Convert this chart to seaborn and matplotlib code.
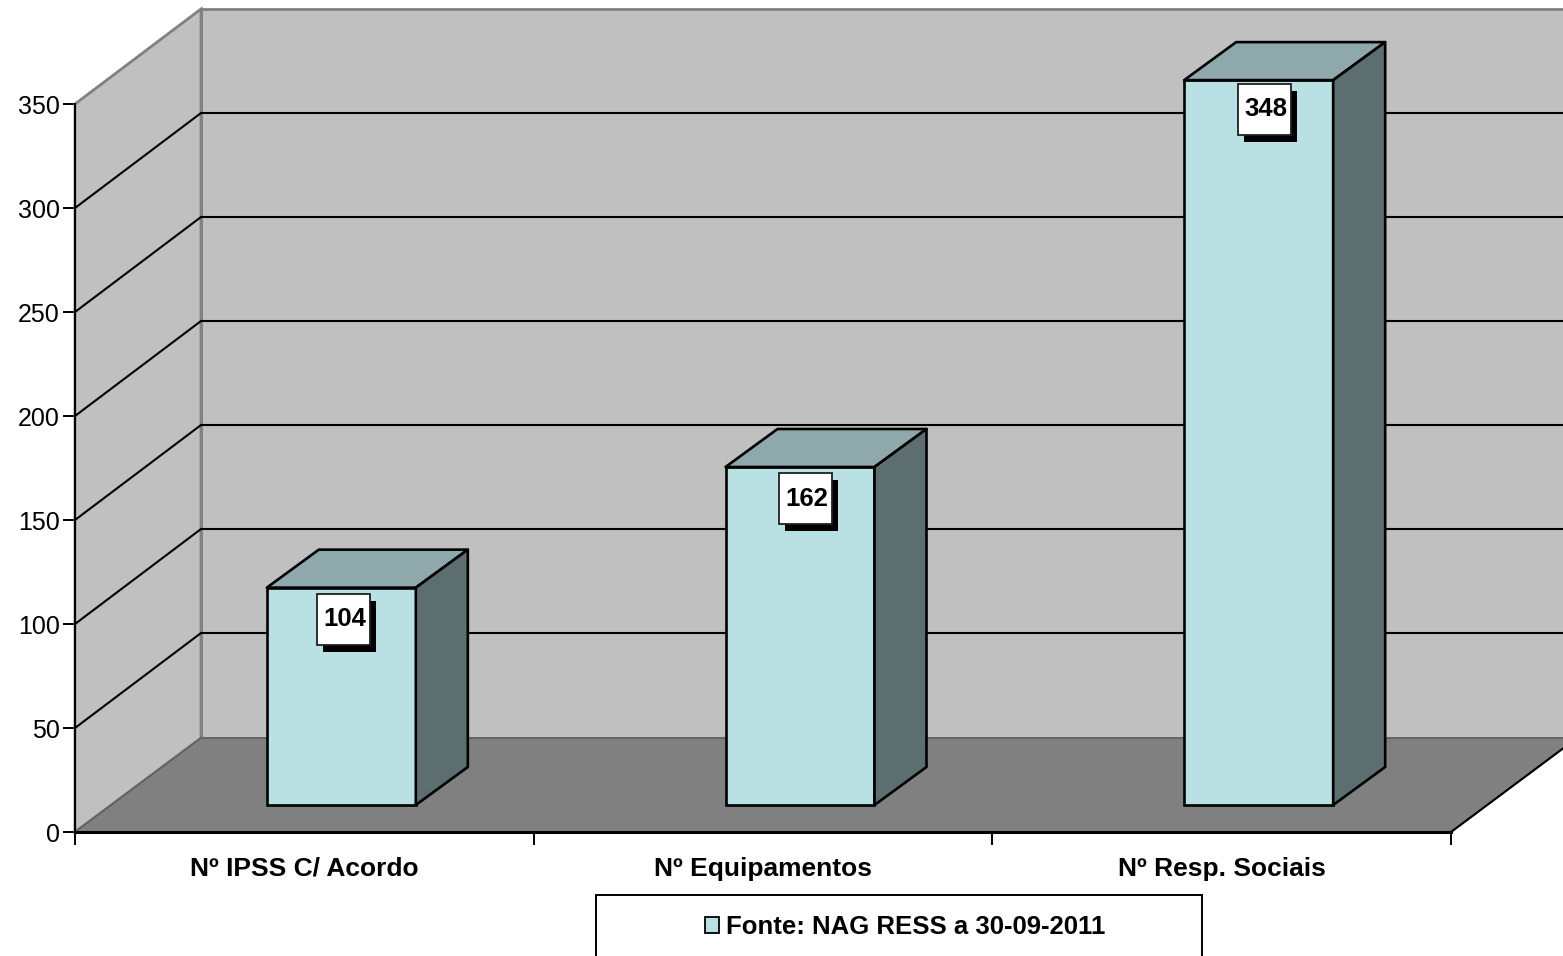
import matplotlib
matplotlib.use('Agg')
import matplotlib.pyplot as plt
from matplotlib.patches import Polygon, Rectangle, Patch
import pandas as pd
import seaborn as sns

categories = ['Nº IPSS C/ Acordo', 'Nº Equipamentos', 'Nº Resp. Sociais']
values = [104, 162, 348]
y_ticks = [0, 50, 100, 150, 200, 250, 300, 350]
legend_label = 'Fonte: NAG RESS a 30-09-2011'

WALL = '#c0c0c0'
FLOOR = '#808080'
FRONT = '#b9e0e3'
TOP = '#8ea8ac'
SIDE = '#5d6e71'

# desvio das etiquetas em relacao ao centro/topo de cada barra (pixels)
label_dx = [2.5, 5.5, 6]
label_dy = [6, 6, 3.5]

W, H = 1563, 956
sns.set_style('white')
plt.rcParams['font.family'] = ['Liberation Sans', 'DejaVu Sans']

fig = plt.figure(figsize=(W / 100, H / 100), dpi=100)
ax = fig.add_axes([75 / W, (H - 832) / H, 1376 / W, 728 / H])
ax.patch.set_alpha(0)

df = pd.DataFrame({'categoria': categories, 'valor': values})
sns.barplot(data=df, x='categoria', y='valor', width=149 / 458.67, color=FRONT,
            saturation=1, edgecolor='black', linewidth=1.9, zorder=5, ax=ax)
ax.set_xlim(-0.5, 2.5)
ax.set_ylim(0, 350)
ax.set_xlabel('')
ax.set_ylabel('')

# conversao pixel -> unidades dos dados
px_x = 1 / (1376 / 3)
px_y = 350 / 728
wall_dx, wall_dy = 126 * px_x, 95 * px_y
floor_dy = 94 * px_y
bar_dx, bar_dy = 52 * px_x, 38 * px_y


def poly(points, **kw):
    kw.setdefault('clip_on', False)
    ax.add_patch(Polygon(points, closed=True, **kw))


# parede de fundo, parede lateral e chao
poly([(-0.5 + wall_dx, 0 + floor_dy), (-0.5 + wall_dx, 350 + wall_dy),
      (2.5 + wall_dx + 0.1, 350 + wall_dy), (2.5 + wall_dx + 0.1, 0 + floor_dy)],
     facecolor=WALL, edgecolor=FLOOR, linewidth=2, zorder=1)
poly([(-0.5, 0), (-0.5, 350), (-0.5 + wall_dx, 350 + wall_dy), (-0.5 + wall_dx, floor_dy)],
     facecolor=WALL, edgecolor=FLOOR, linewidth=2, zorder=1)
poly([(-0.5, 0), (-0.5 + wall_dx, floor_dy), (2.5 + wall_dx, floor_dy), (2.5, 0)],
     facecolor=FLOOR, edgecolor='#606060', linewidth=1.2, zorder=2)
ax.plot([2.5, 2.5 + wall_dx], [0, floor_dy], color='black', lw=1.5, clip_on=False, zorder=3)

# linhas de grelha nas duas paredes
for t in y_ticks[1:-1]:
    ax.plot([-0.5, -0.5 + wall_dx, 2.5 + wall_dx + 0.1], [t, t + wall_dy, t + wall_dy],
            color='black', lw=1.5, clip_on=False, zorder=3)

# barras: a base fica deslocada para dentro do chao
base = 27 * px_y
for i, (bar, val) in enumerate(zip(ax.patches, values)):
    bar.set_x(bar.get_x() + 37 * px_x)
    bar.set_y(base)
    bar.set_height(val + 0.5)
    bar.set_clip_on(False)
    x0, x1 = bar.get_x(), bar.get_x() + bar.get_width()
    y0, y1 = base, base + val + 0.5
    poly([(x0, y1), (x1, y1), (x1 + bar_dx, y1 + bar_dy), (x0 + bar_dx, y1 + bar_dy)],
         facecolor=TOP, edgecolor='black', linewidth=1.9, joinstyle='round', zorder=6)
    poly([(x1, y0), (x1 + bar_dx, y0 + bar_dy), (x1 + bar_dx, y1 + bar_dy), (x1, y1)],
         facecolor=SIDE, edgecolor='black', linewidth=1.9, joinstyle='round', zorder=6)

    # etiqueta do valor com sombra
    cx = (x0 + x1) / 2 + label_dx[i] * px_x
    bw, bh = 53 * px_x, 51 * px_y
    top = y1 - label_dy[i] * px_y
    ax.add_patch(Rectangle((cx - bw / 2 + 6 * px_x, top - bh - 7 * px_y), bw, bh,
                           facecolor='black', edgecolor='none', clip_on=False, zorder=7))
    ax.add_patch(Rectangle((cx - bw / 2, top - bh), bw, bh, facecolor='white',
                           edgecolor='#202020', linewidth=1.3, clip_on=False, zorder=8))
    ax.text(cx + 1 * px_x, top - bh / 2, str(val), ha='center', va='center', fontsize=18.5,
            fontweight='bold', color='black', clip_on=False, zorder=9)

# eixos
sns.despine(ax=ax, top=True, right=True)
ax.spines['left'].set_color('black')
ax.spines['left'].set_linewidth(1.4)
ax.spines['left'].set_zorder(4)
ax.spines['bottom'].set_color('black')
ax.spines['bottom'].set_linewidth(2.2)
ax.spines['bottom'].set_zorder(4)
ax.set_yticks(y_ticks)
ax.set_xticks([-0.5, 0.5, 1.5, 2.5], labels=[])
ax.set_xticks([0, 1, 2], labels=categories, minor=True)
ax.tick_params(axis='y', which='major', left=True, length=9, width=1.4, color='black',
               labelsize=18, labelcolor='black', pad=2)
ax.tick_params(axis='x', which='major', bottom=True, length=9, width=1.4, color='black')
ax.tick_params(axis='x', which='minor', bottom=False, length=0, pad=18,
               labelsize=19, labelcolor='black')
for lab in ax.get_xticklabels(minor=True):
    lab.set_fontweight('bold')

# caixa da legenda, cortada pela margem inferior
fig.add_artist(Rectangle((596 / W, -10 / H), 606 / W, (H - 895 + 10) / H, transform=fig.transFigure,
                         facecolor='white', edgecolor='black', linewidth=1.4))
leg = fig.legend(handles=[Patch(facecolor=FRONT, edgecolor='black', linewidth=1.3, label=legend_label)],
                 loc='center', bbox_to_anchor=(905 / W, (H - 927) / H), frameon=False,
                 prop={'weight': 'bold', 'size': 18.5}, labelcolor='black',
                 handlelength=0.55, handleheight=0.55, handletextpad=0.28)

fig.savefig('out.png', dpi=100)
